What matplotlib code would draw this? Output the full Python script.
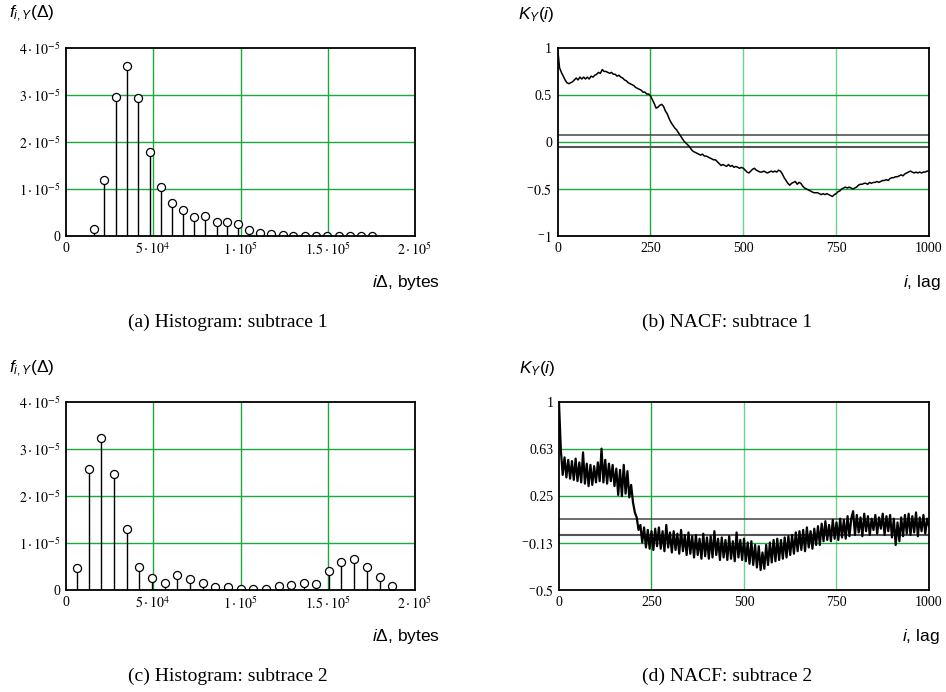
##############################################################################
# Packet size histograms and NACF of two subtraces
##############################################################################

import numpy as np
import matplotlib
matplotlib.use("Agg")
import matplotlib.pyplot as plt

plt.rcParams["font.family"] = ["Liberation Sans", "DejaVu Sans"]
plt.rcParams["mathtext.fontset"] = "custom"
plt.rcParams["mathtext.rm"] = "Liberation Sans"
plt.rcParams["mathtext.it"] = "Liberation Sans:italic"

##############################################################################
# Data
##############################################################################

# histogram, subtrace 1 (bin positions in bytes, frequency in units of 1e-5)
hist1_x = [16046, 21968, 28462, 34766, 41452, 47947, 54250, 60554, 66858, 73352,
           79847, 86342, 92073, 98376, 104871, 111366, 117670, 124165, 130277,
           136772, 143266, 149761, 156256, 162560, 169054, 175358]
hist1_f = [0.15, 1.19, 2.96, 3.62, 2.94, 1.79, 1.04, 0.70, 0.55, 0.40,
           0.43, 0.29, 0.29, 0.25, 0.13, 0.06, 0.035, 0.015, 0.01,
           0.01, 0.008, 0.008, 0.005, 0.005, 0.005, 0.004]

# histogram, subtrace 2
hist2_x = [6113, 12989, 20248, 27698, 34766, 42025, 49475, 56734, 63801, 70869,
           78319, 85578, 92646, 100096, 107163, 114422, 122063, 129131, 136199,
           143266, 150907, 157784, 165234, 172684, 179752, 187011]
hist2_f = [0.46, 2.57, 3.25, 2.48, 1.31, 0.48, 0.25, 0.15, 0.32, 0.23,
           0.15, 0.06, 0.06, 0.015, 0.015, 0.015, 0.08, 0.10, 0.15,
           0.12, 0.41, 0.60, 0.67, 0.48, 0.27, 0.08]

# NACF lags (every 5th lag)
lags = np.arange(0, 1001, 5)

nacf1 = [1.00, 0.79, 0.74, 0.70, 0.66, 0.63, 0.62, 0.63, 0.64, 0.66,
         0.68, 0.66, 0.69, 0.67, 0.69, 0.67, 0.69, 0.67, 0.70, 0.69,
         0.71, 0.72, 0.74, 0.73, 0.77, 0.75, 0.75, 0.74, 0.73, 0.74,
         0.72, 0.72, 0.70, 0.71, 0.69, 0.68, 0.66, 0.65, 0.63, 0.62,
         0.61, 0.60, 0.58, 0.57, 0.56, 0.55, 0.53, 0.53, 0.51, 0.51,
         0.49, 0.45, 0.41, 0.36, 0.37, 0.39, 0.40, 0.38, 0.33, 0.30,
         0.25, 0.21, 0.18, 0.15, 0.13, 0.10, 0.07, 0.04, 0.01, -0.01,
         -0.03, -0.05, -0.08, -0.10, -0.11, -0.12, -0.13, -0.14, -0.13, -0.15,
         -0.15, -0.16, -0.17, -0.18, -0.19, -0.19, -0.21, -0.23, -0.25, -0.24,
         -0.25, -0.26, -0.24, -0.26, -0.25, -0.27, -0.26, -0.27, -0.28, -0.27,
         -0.28, -0.30, -0.32, -0.33, -0.31, -0.29, -0.28, -0.30, -0.31, -0.32,
         -0.32, -0.31, -0.32, -0.33, -0.32, -0.31, -0.32, -0.31, -0.32, -0.30,
         -0.31, -0.34, -0.38, -0.41, -0.44, -0.46, -0.44, -0.43, -0.42, -0.45,
         -0.43, -0.44, -0.47, -0.49, -0.50, -0.51, -0.52, -0.53, -0.54, -0.54,
         -0.54, -0.55, -0.56, -0.55, -0.56, -0.55, -0.56, -0.57, -0.58, -0.56,
         -0.55, -0.53, -0.52, -0.50, -0.49, -0.48, -0.49, -0.48, -0.49, -0.50,
         -0.49, -0.48, -0.46, -0.45, -0.45, -0.44, -0.44, -0.45, -0.43, -0.44,
         -0.43, -0.43, -0.42, -0.43, -0.42, -0.41, -0.41, -0.40, -0.41, -0.39,
         -0.38, -0.38, -0.37, -0.37, -0.36, -0.35, -0.36, -0.34, -0.33, -0.32,
         -0.31, -0.32, -0.33, -0.32, -0.33, -0.32, -0.33, -0.32, -0.32, -0.31,
         -0.31]

nacf2 = [1.00, 0.62, 0.42, 0.56, 0.40, 0.54, 0.39, 0.53, 0.38, 0.55,
         0.37, 0.52, 0.36, 0.60, 0.35, 0.51, 0.33, 0.50, 0.34, 0.49,
         0.36, 0.52, 0.37, 0.63, 0.36, 0.54, 0.35, 0.51, 0.37, 0.50,
         0.33, 0.47, 0.26, 0.46, 0.25, 0.50, 0.27, 0.45, 0.24, 0.34,
         0.20, 0.12, 0.08, -0.02, 0.02, -0.12, 0.00, -0.16, -0.02, -0.17,
         -0.03, -0.18, -0.01, -0.15, 0.00, -0.17, -0.03, -0.19, 0.02, -0.16,
         -0.04, -0.20, -0.03, -0.18, -0.05, -0.21, -0.02, -0.19, -0.06, -0.22,
         -0.04, -0.21, -0.07, -0.24, -0.06, -0.22, -0.09, -0.25, -0.05, -0.23,
         -0.08, -0.25, -0.07, -0.24, -0.03, -0.22, -0.09, -0.26, -0.08, -0.24,
         -0.10, -0.26, -0.07, -0.25, -0.11, -0.27, -0.04, -0.24, -0.10, -0.26,
         -0.09, -0.27, -0.12, -0.29, -0.11, -0.30, -0.14, -0.32, -0.15, -0.34,
         -0.20, -0.33, -0.14, -0.30, -0.12, -0.28, -0.10, -0.27, -0.09, -0.26,
         -0.10, -0.25, -0.08, -0.24, -0.07, -0.22, -0.06, -0.21, -0.04, -0.19,
         -0.03, -0.18, -0.02, -0.19, 0.00, -0.16, -0.03, -0.17, -0.01, -0.14,
         0.01, -0.14, 0.03, -0.11, 0.05, -0.10, 0.02, -0.11, 0.06, -0.09,
         0.04, -0.10, 0.07, -0.08, 0.06, -0.09, 0.09, -0.07, 0.07, 0.13,
         -0.06, 0.10, -0.04, 0.08, -0.07, 0.11, -0.03, 0.09, -0.06, 0.07,
         -0.02, 0.10, -0.05, 0.08, -0.01, 0.11, -0.06, 0.09, -0.03, 0.10,
         -0.08, 0.07, -0.14, 0.04, -0.11, 0.08, -0.07, 0.10, -0.05, 0.11,
         -0.06, 0.09, -0.04, 0.12, -0.07, 0.08, -0.03, 0.10, -0.05, 0.07,
         0.01]

# confidence bounds (upper, lower)
conf1 = [0.07, -0.057]
conf2 = [0.069, -0.064]

# ticks
hist_xticks = [0, 5e4, 1e5, 1.5e5, 2e5]
hist_xlabels = ["0", r"$5\cdot10^{4}$", r"$1\cdot10^{5}$", r"$1.5\cdot10^{5}$", r"$2\cdot10^{5}$"]
hist_yticks = [0, 1e-5, 2e-5, 3e-5, 4e-5]
hist_ylabels = ["0", r"$1\cdot10^{-5}$", r"$2\cdot10^{-5}$", r"$3\cdot10^{-5}$", r"$4\cdot10^{-5}$"]

lag_ticks = [0, 250, 500, 750, 1000]
nacf1_yticks = [-1, -0.5, 0, 0.5, 1]
nacf1_ylabels = [r"$^{-}1$", r"$^{-}0.5$", "0", "0.5", "1"]
nacf2_yticks = [-0.5, -0.125, 0.25, 0.625, 1]
nacf2_ylabels = [r"$^{-}0.5$", r"$^{-}0.13$", "0.25", "0.63", "1"]

captions = ["(a) Histogram: subtrace 1", "(b) NACF: subtrace 1",
            "(c) Histogram: subtrace 2", "(d) NACF: subtrace 2"]

GREEN = "#1aaa3c"
LIGHT_GREEN = "#6fcf8f"

##############################################################################
# Figure
##############################################################################

fig = plt.figure(figsize=(9.46, 6.92), dpi=100)

ax_a = fig.add_axes([0.0698, 0.659, 0.3689, 0.2717])
ax_b = fig.add_axes([0.5895, 0.659, 0.3925, 0.2717])
ax_c = fig.add_axes([0.0698, 0.1474, 0.3689, 0.2712])
ax_d = fig.add_axes([0.5909, 0.1474, 0.3911, 0.2712])


def style_axes(ax, xticks, xlabels, yticks, ylabels):
    ax.set_xticks(xticks)
    ax.set_xticklabels(xlabels, fontfamily="Liberation Serif", math_fontfamily="stix", fontsize=10)
    ax.set_yticks(yticks)
    ax.set_yticklabels(ylabels, fontfamily="Liberation Serif", math_fontfamily="stix", fontsize=10)
    ax.tick_params(length=0, pad=4)
    for s in ax.spines.values():
        s.set_linewidth(1.3)
        s.set_color("black")
        s.set_zorder(5)


def draw_hist(ax, x, f):
    vals = np.array(f) * 1e-5
    for t in hist_xticks[1:-1]:
        ax.axvline(t, color=GREEN, lw=1.0, zorder=1)
    for t in hist_yticks[1:-1]:
        ax.axhline(t, color=GREEN, lw=1.0, zorder=1)
    ax.vlines(x, 0, vals, color="black", lw=1.0, zorder=2)
    ax.plot(x, vals, "o", ms=5.8, mfc="white", mec="black", mew=0.9, zorder=3)
    ax.set_xlim(0, 2e5)
    ax.set_ylim(0, 4e-5)
    style_axes(ax, hist_xticks, hist_xlabels, hist_yticks, hist_ylabels)
    ax.text(-0.162, 1.18, r"$f_{i,Y}(\Delta)$", transform=ax.transAxes, fontsize=12.5,
            va="center")
    ax.text(0.877, -0.25, r"$i\Delta$, bytes", transform=ax.transAxes, fontsize=12.5,
            ha="left", va="center")


def draw_nacf(ax, k, conf, yticks, ylabels, lw):
    for t in lag_ticks[1:-1]:
        ax.axvline(t, color=GREEN if t == 250 else LIGHT_GREEN, lw=1.0, zorder=1)
    for t in yticks[1:-1]:
        ax.axhline(t, color=GREEN, lw=1.0, zorder=1)
    ax.axhline(conf[0], color="#444444", lw=1.1, zorder=2)
    ax.axhline(conf[1], color="#555555", lw=1.5, zorder=2)
    ax.plot(lags, k, color="black", lw=lw, zorder=3)
    ax.set_xlim(0, 1000)
    ax.set_ylim(yticks[0], yticks[-1])
    style_axes(ax, lag_ticks, [str(t) for t in lag_ticks], yticks, ylabels)
    ax.text(-0.107, 1.18, r"$K_Y(i)$", transform=ax.transAxes, fontsize=12.5,
            va="center")
    ax.text(1.03, -0.25, r"$i$, lag", transform=ax.transAxes, fontsize=12.5,
            ha="right", va="center")


draw_hist(ax_a, hist1_x, hist1_f)
draw_nacf(ax_b, nacf1, conf1, nacf1_yticks, nacf1_ylabels, 1.1)
draw_hist(ax_c, hist2_x, hist2_f)
draw_nacf(ax_d, nacf2, conf2, nacf2_yticks, nacf2_ylabels, 1.6)

# captions under each panel
for ax, cap in zip([ax_a, ax_b, ax_c, ax_d], captions):
    pos = ax.get_position()
    cx = 228 / 946 if ax in (ax_a, ax_c) else 727 / 946
    fig.text(cx, pos.y0 - 86 / 692, cap, ha="center", va="center",
             fontfamily="Liberation Serif", fontsize=14)

plt.savefig("out.png", dpi=100)
